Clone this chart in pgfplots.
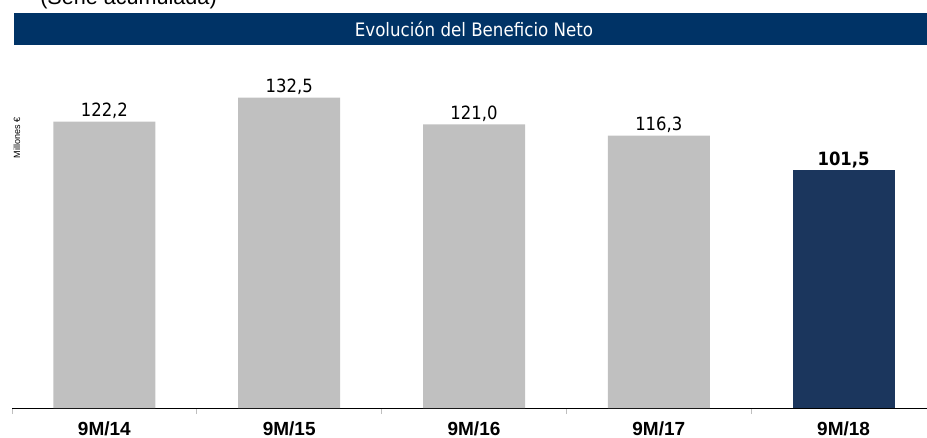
\documentclass[border=0pt]{standalone}
\usepackage{pgfplots}
\pgfplotsset{compat=1.18}
\usepackage{fontspec}
\setmainfont{Liberation Sans}
\newfontfamily\tah{DejaVu Sans Condensed}
\definecolor{barGray}{HTML}{C0C0C0}
\definecolor{barNavy}{HTML}{1B365D}
\definecolor{titleNavy}{HTML}{003366}
\begin{document}
\begin{tikzpicture}[x=0.75pt,y=0.75pt]
\path[use as bounding box, clip] (0,0) rectangle (927,437);
\node[anchor=base west, font=\fontsize{16.2pt}{18pt}\selectfont, inner sep=0pt] at (40,432.5) {(Serie acumulada)};
\fill[titleNavy] (14,392) rectangle (927,424);
\node[anchor=base, text=white, inner sep=0pt, font=\tah\fontsize{13.9pt}{16pt}\selectfont] at (474,401) {Evolución del Beneficio Neto};
\node[rotate=90, inner sep=0pt, font=\fontsize{6.8pt}{7pt}\selectfont] at (17,299) {Millones €};
\begin{axis}[
  at={(78.3pt,21.75pt)}, anchor=origin,
  scale only axis, width=693pt, height=263.6pt,
  xmin=-0.5, xmax=4.5, ymin=0, ymax=150,
  axis y line=none, axis x line*=bottom,
  x axis line style={black, line width=0.75pt},
  xtick={-0.5,0.5,1.5,2.5,3.5,4.5}, xticklabels={},
  tick align=outside, major tick length=4.5pt,
  tick style={gray!50, line width=0.75pt},
  extra x ticks={0,1,2,3,4},
  extra x tick labels={9M/14,9M/15,9M/16,9M/17,9M/18},
  extra x tick style={major tick length=0pt, tick style={draw=none},
    xticklabel style={anchor=base, yshift=-20.25pt, inner sep=0pt,
      font=\bfseries\fontsize{14.25pt}{16pt}\selectfont}},
  clip=false,
]
\addplot[ybar, bar width=76.5pt, bar shift=0pt, fill=barGray, draw=none,
  nodes near coords, point meta=explicit symbolic,
  every node near coord/.append style={anchor=base, yshift=3.75pt, inner sep=0pt,
    text=black, font=\tah\fontsize{13.7pt}{16pt}\selectfont}]
  coordinates {(0,122.2) [122,2] (1,132.5) [132,5] (2,121.0) [121,0] (3,116.3) [116,3]};
\addplot[ybar, bar width=76.5pt, bar shift=0pt, fill=barNavy, draw=none,
  nodes near coords, point meta=explicit symbolic,
  every node near coord/.append style={anchor=base, yshift=3.75pt, inner sep=0pt,
    text=black, font=\tah\bfseries\fontsize{13.7pt}{16pt}\selectfont}]
  coordinates {(4,101.5) [101,5]};
\end{axis}
\end{tikzpicture}
\end{document}
